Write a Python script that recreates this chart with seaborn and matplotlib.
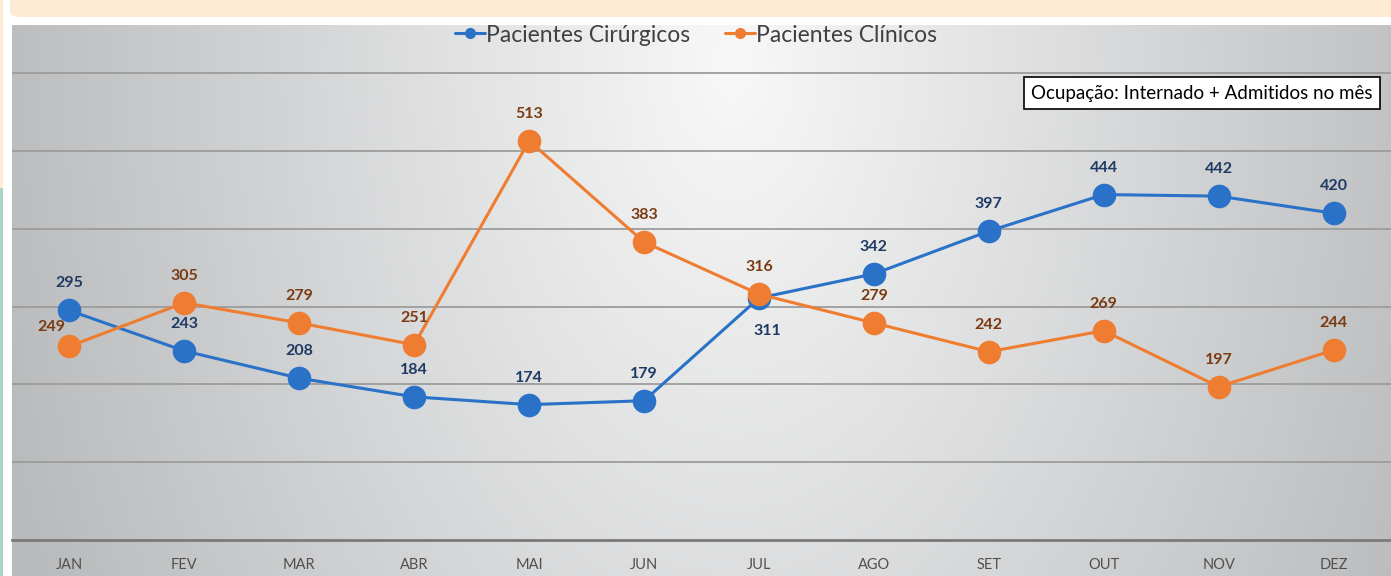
import numpy as np
import pandas as pd
import matplotlib
matplotlib.use("Agg")
import matplotlib.pyplot as plt
from matplotlib.patches import FancyBboxPatch, Rectangle
from matplotlib.lines import Line2D
import seaborn as sns

# dados
meses = ["JAN", "FEV", "MAR", "ABR", "MAI", "JUN", "JUL", "AGO", "SET", "OUT", "NOV", "DEZ"]
cirurgicos = [295, 243, 208, 184, 174, 179, 311, 342, 397, 444, 442, 420]
clinicos = [249, 305, 279, 251, 513, 383, 316, 279, 242, 269, 197, 244]
series = ["Pacientes Cirúrgicos", "Pacientes Clínicos"]
nota = "Ocupação: Internado + Admitidos no mês"

df = pd.DataFrame({
    "idx": list(range(len(meses))) * 2,
    "valor": cirurgicos + clinicos,
    "serie": [series[0]] * len(meses) + [series[1]] * len(meses),
})

AZUL = "#2a72c8"
LARANJA = "#ef7d31"
cores = {series[0]: AZUL, series[1]: LARANJA}
cor_rotulo = {series[0]: "#1f3a64", series[1]: "#7a3a12"}

sns.set_theme(style="white")
plt.rcParams["font.family"] = ["Lato", "DejaVu Sans"]

W, H = 1391, 576
fig = plt.figure(figsize=(W / 100, H / 100), dpi=100, facecolor="white")

# moldura da pagina
fig.patches.append(FancyBboxPatch((10 / W, 1 - 17 / H), 1.0, 30 / H, boxstyle="round,pad=0,rounding_size=0.008",
                                  transform=fig.transFigure, facecolor="#fdebd4", edgecolor="none", zorder=0))
fig.patches.append(Rectangle((0, 1 - 188 / H), 3 / W, 188 / H, transform=fig.transFigure,
                             facecolor="#fdebd4", edgecolor="none", zorder=0))
fig.patches.append(Rectangle((0, 0), 3 / W, 1 - 188 / H, transform=fig.transFigure,
                             facecolor="#a9d6c2", edgecolor="none", zorder=0))

# fundo em degrade
x0 = 12 / W
bg = fig.add_axes([x0, 0, 1 - x0, 1 - 25 / H])
bg.set_axis_off()
gx, gy = np.meshgrid(np.arange(W - 12), np.arange(H - 25))
t = np.sqrt(((gx - 720) / 767.0) ** 2 + ((gy - 40) / 1209.0) ** 2)
t = np.clip(t, 0, 1)[..., None]
c_in = np.array([0xf8, 0xf8, 0xf8]) / 255
c_out = np.array([0xb8, 0xba, 0xbc]) / 255
img = c_in * (1 - t) + c_out * t
bg.imshow(img, aspect="auto", extent=(0, 1, 0, 1), origin="upper")
bg.set_xlim(0, 1)
bg.set_ylim(0, 1)

# grafico
ax = fig.add_axes([x0, 36 / H, 1 - x0, (540 - 25) / H])
ax.patch.set_alpha(0)
sns.lineplot(data=df, x="idx", y="valor", hue="serie", palette=cores, marker="o",
             markersize=17, markeredgewidth=0, linewidth=2.2, ax=ax, legend=False, zorder=3)

ax.set_xlim(-0.5, 11.5)
ax.set_ylim(0, 515 / 0.778)
ax.set_yticks([100, 200, 300, 400, 500, 600])
ax.yaxis.grid(True, color="#9c9c9c", linewidth=1.3)
ax.set_yticklabels([])
ax.tick_params(axis="y", length=0)
ax.set_xticks(range(len(meses)))
ax.set_xticklabels(meses, fontsize=10.5, color="#505050")
ax.tick_params(axis="x", length=0, pad=13)
ax.set_xlabel("")
ax.set_ylabel("")
for s in ["top", "left", "right"]:
    ax.spines[s].set_visible(False)
ax.spines["bottom"].set_color("#7a7a7a")
ax.spines["bottom"].set_linewidth(2)

# rotulos de dados (deslocamento em pixels)
desloc = {(series[1], 0): (-18, 19), (series[0], 6): (8, -33)}
for nome, vals in zip(series, [cirurgicos, clinicos]):
    for i, v in enumerate(vals):
        dx, dy = desloc.get((nome, i), (0, 27))
        ax.annotate(str(v), (i, v), xytext=(dx, dy), textcoords="offset pixels",
                    ha="center", va="center", fontsize=11.5, fontweight="bold",
                    color=cor_rotulo[nome], zorder=5)

# legenda
handles = [Line2D([], [], color=cores[n], marker="o", markersize=7, linewidth=2.2) for n in series]
ax.legend(handles, series, loc="center", bbox_to_anchor=(0.496, 1 - 10 / 515), ncol=2, frameon=False,
          fontsize=16.5, handlelength=1.3, handletextpad=0.05, columnspacing=1.5,
          labelcolor="#404040", borderaxespad=0, borderpad=0)

# caixa de nota
fig.text(1031 / W, 1 - 93 / H, nota, fontsize=13.5, color="black", va="center", ha="left",
         bbox=dict(boxstyle="square,pad=0.4", facecolor="white", edgecolor="black", linewidth=1.2))

fig.savefig("out.png", dpi=100, facecolor="white")
